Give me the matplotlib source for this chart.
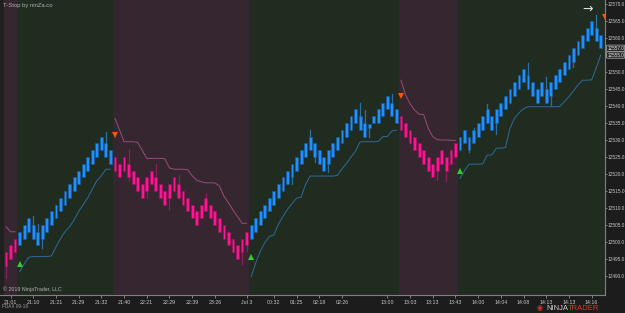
import matplotlib.pyplot as plt
import numpy as np

plt.rcParams['font.family'] = ['Liberation Sans', 'DejaVu Sans']

# renko bricks (open / close), one per bar
opens = [12497, 12495, 12497, 12499, 12501, 12503, 12505, 12503, 12501, 12503,
         12505, 12507, 12509, 12511, 12513, 12515, 12517, 12519, 12521, 12523,
         12525, 12527, 12529, 12527, 12525, 12523, 12521, 12523, 12521, 12519,
         12517, 12515, 12517, 12519, 12517, 12515, 12513, 12515, 12517, 12515,
         12513, 12511, 12509, 12507, 12509, 12511, 12509, 12507, 12505, 12503,
         12501, 12499, 12497, 12499, 12501, 12503, 12505, 12507, 12509, 12511,
         12513, 12515, 12517, 12519, 12521, 12523, 12525, 12527, 12529, 12527,
         12525, 12523, 12525, 12527, 12529, 12531, 12533, 12535, 12537, 12535,
         12533.4, 12535, 12535, 12537, 12539, 12541, 12539, 12537, 12535, 12533,
         12531, 12529, 12527, 12525, 12523, 12521, 12523, 12525, 12523, 12525,
         12527, 12529, 12531, 12529, 12531, 12533, 12535, 12537, 12535, 12537,
         12539, 12541, 12543, 12545, 12547, 12549, 12547, 12545, 12543, 12545,
         12543, 12545, 12547, 12549, 12551, 12553, 12555, 12557, 12559, 12561,
         12563, 12561]
closes = [12493, 12499, 12501, 12503, 12505, 12507, 12501, 12499, 12505, 12507,
          12509, 12511, 12513, 12515, 12517, 12519, 12521, 12523, 12525, 12527,
          12529, 12531, 12525, 12523, 12521, 12519, 12525, 12519, 12517, 12515,
          12513, 12519, 12521, 12515, 12513, 12511, 12517, 12519, 12513, 12511,
          12509, 12507, 12505, 12511, 12513, 12507, 12505, 12503, 12501, 12499,
          12497, 12495, 12501, 12503, 12505, 12507, 12509, 12511, 12513, 12515,
          12517, 12519, 12521, 12523, 12525, 12527, 12529, 12531, 12525, 12523,
          12521, 12527, 12529, 12531, 12533, 12535, 12537, 12539, 12533, 12531,
          12534.6, 12537, 12539, 12541, 12543, 12537, 12535, 12533, 12531, 12529,
          12527, 12525, 12523, 12521, 12519, 12525, 12527, 12521, 12527, 12529,
          12531, 12533, 12527, 12533, 12535, 12537, 12539, 12533, 12539, 12541,
          12543, 12545, 12547, 12549, 12551, 12545, 12543, 12541, 12547, 12541,
          12547, 12549, 12551, 12553, 12555, 12557, 12559, 12561, 12563, 12565,
          12559, 12557]

# wicks sticking out of the bricks
wick_bar = [0, 6, 7, 8, 22, 27, 27, 31, 33, 36, 38, 44, 52, 53, 63, 67, 68, 71,
            78, 79, 80, 85, 95, 97, 102, 103, 106, 108, 115, 119, 120, 125, 130]
wick_to = [12489.4, 12507.7, 12505.3, 12498.3, 12532.4, 12527.5, 12518.2,
           12512.9, 12522.9, 12509.4, 12519.7, 12514.3, 12493.5, 12497.3,
           12517.1, 12532.9, 12523.5, 12520.6, 12540.8, 12538.8, 12531.0,
           12543.4, 12518.2, 12517.8, 12526.5, 12533.6, 12540.6, 12531.8,
           12552.7, 12548.6, 12540.2, 12551.6, 12566.8]

# T-Stop trailing line
stop = [12504.5, 12503.0, 12503.0, 12491.3, 12493.5, 12495.5, 12495.7, 12495.7,
        12495.7, 12495.7, 12495.9, 12498.5, 12501.0, 12503.0, 12504.5, 12506.5,
        12509.0, 12511.0, 12513.0, 12515.5, 12518.0, 12519.5, 12521.4, 12521.4,
        12536.4, 12533.0, 12529.5, 12529.5, 12529.5, 12529.3, 12527.0, 12524.6,
        12524.6, 12524.6, 12524.6, 12524.5, 12521.8, 12521.4, 12521.4, 12521.4,
        12521.3, 12519.5, 12518.2, 12517.7, 12517.4, 12517.4, 12517.4, 12516.5,
        12513.5, 12511.5, 12509.4, 12507.5, 12505.5, 12505.5, 12489.8, 12493.8,
        12497.2, 12499.8, 12501.6, 12502.1, 12505.2, 12507.5, 12509.6, 12511.3,
        12512.9, 12513.2, 12517.0, 12519.4, 12519.4, 12519.4, 12519.4, 12519.4,
        12519.4, 12519.6, 12521.5, 12523.1, 12525.0, 12526.8, 12529.5, 12529.5,
        12529.5, 12529.5, 12529.6, 12531.0, 12531.0, 12532.7, 12532.9, 12547.6,
        12543.3, 12540.7, 12538.8, 12537.6, 12537.5, 12533.4, 12531.0, 12530.1,
        12530.0, 12530.0, 12529.9, 12529.9, 12518.7, 12521.0, 12522.9, 12522.9,
        12522.9, 12523.0, 12525.6, 12525.6, 12527.6, 12527.6, 12527.8, 12533.4,
        12536.4, 12538.0, 12539.2, 12539.8, 12539.8, 12539.8, 12539.8, 12539.8,
        12539.8, 12539.8, 12539.9, 12541.3, 12542.8, 12544.5, 12546.2, 12547.6,
        12547.6, 12547.7, 12551.2, 12555.0]

# trend segments: first bar of each, direction
trend_start = [0, 3, 24, 54, 87, 100]
trend_dir = [-1, 1, -1, 1, -1, 1]

# signal arrows (last one belongs to the next, unfinished bar)
signal_bar = [3, 24, 54, 87, 100, 132]
signal_price = [12493.5, 12531.5, 12495.5, 12542.9, 12521.0, 12566.3]

# x axis labels
tick_bars = [1, 6, 11, 16, 21, 26, 31, 36, 41, 46, 53, 59, 64, 69, 74, 84, 89,
             94, 99, 104, 109, 114, 119, 124, 129]
tick_labels = ['21:01', '21:10', '21:21', '21:29', '21:32', '21:40', '22:21',
               '22:29', '22:39', '23:26', 'Jul 3', '00:32', '01:25', '02:18',
               '02:26', '13:00', '13:03', '13:13', '13:43', '14:00', '14:04',
               '14:08', '14:13', '14:13', '14:16']
price_ticks = list(range(12490, 12571, 5))

BLUE = '#1e90ff'
PINK = '#ff1493'
BG_UP = '#212c21'
BG_DN = '#35262f'
TXT = '#c8c8c8'

n = len(opens)
x = np.arange(n)
trend = np.zeros(n)
ends = trend_start[1:] + [n]
for s, e, d in zip(trend_start, ends, trend_dir):
    trend[s:e] = d

fig = plt.figure(figsize=(6.25, 3.13), dpi=100, facecolor='#1c1c1c')
ax = fig.add_axes([0, 18 / 313, 605 / 625, 295 / 313])
ax.set_facecolor('#1e211e')

# background by trend
for s, e, d in zip(trend_start, ends, trend_dir):
    right = e - 0.5 + (2 if e == n else 0)
    ax.axvspan(s - 0.5, right, color=BG_UP if d > 0 else BG_DN, lw=0, zorder=0)

# wicks
for b, w in zip(wick_bar, wick_to):
    mid = (opens[b] + closes[b]) / 2
    ax.plot([b, b], [mid, w], color='#2f6f9f' if trend[b] > 0 else '#8c1f5c',
            lw=0.9, zorder=2)

# bricks
o = np.array(opens)
c = np.array(closes)
cols = [BLUE if t > 0 else PINK for t in trend]
edges = ['#155a9c' if t > 0 else '#a0105e' for t in trend]
ax.bar(x, c - o, bottom=o, width=0.62, color=cols, edgecolor=edges, lw=0.4, zorder=3)

# stop line
for s, e, d in zip(trend_start, ends, trend_dir):
    ax.plot(x[s:e], stop[s:e], color='#2d6a98' if d > 0 else '#9a4d7a',
            lw=0.7, zorder=2)

# signals
for b, p in zip(signal_bar, signal_price):
    if b < n and trend[b] > 0:
        ax.plot(b, p, marker='^', color='#33cc33', ms=5, mew=0, zorder=4)
    else:
        ax.plot(b, p, marker='v', color='#ff5500', ms=5, mew=0, zorder=4)

ax.set_xlim(-1.32, 131.94)
ax.set_ylim(12484.4, 12571.2)

ax.yaxis.tick_right()
ax.set_yticks(price_ticks)
ax.set_yticklabels([f'{v:.1f}' for v in price_ticks])
ax.set_xticks(tick_bars)
ax.set_xticklabels(tick_labels)
ax.tick_params(axis='x', colors='#909090', labelcolor=TXT, labelsize=3.8,
               length=2, width=0.6, pad=1.5)
ax.tick_params(axis='y', colors='#909090', labelcolor=TXT, labelsize=3.4,
               length=1.5, width=0.6, pad=0.6)
for sp in ['top', 'left']:
    ax.spines[sp].set_visible(False)
for sp in ['right', 'bottom']:
    ax.spines[sp].set_color('#808080')
    ax.spines[sp].set_linewidth(0.8)

# current price / stop markers on the axis
for val in [closes[-1], stop[-1]]:
    ax.annotate(f'{val:.1f}', xy=(1.0, val), xycoords=('axes fraction', 'data'),
                xytext=(1.6, 0), textcoords='offset points', va='center', ha='left',
                fontsize=3.3, color='#e8e8e8',
                bbox=dict(boxstyle='round,pad=0.15', fc='#2a2a2a', ec='#b0b0b0', lw=0.5))

fig.text(3 / 625, 1 - 6 / 313, 'T-Stop by ninZa.co', fontsize=4.2, color='#b0b0b0',
         va='center', ha='left')
fig.text(3 / 625, 1 - 289 / 313, '\u00a9 2019 NinjaTrader, LLC', fontsize=3.8,
         color='#b0b0b0', va='center', ha='left')
fig.text(2 / 625, 1 - 307 / 313, 'FDAX 09-19', fontsize=3.4, color='#a0a0a0',
         va='center', ha='left')
fig.text(588 / 625, 1 - 9 / 313, '\u2192', fontsize=9, color='#e0e0e0',
         va='center', ha='center', family='DejaVu Sans')
fig.text(568 / 625, 1 - 308 / 313, 'NINJA', fontsize=5.5, color='#d0d0d0',
         va='center', ha='right')
fig.text(568 / 625, 1 - 308 / 313, 'TRADER', fontsize=5.5, color='#d03a2a',
         va='center', ha='left')
fig.text(540 / 625, 1 - 308 / 313, '\u25c9', fontsize=5, color='#d03a2a',
         va='center', ha='center', family='DejaVu Sans')

fig.savefig('out.png', dpi=100, facecolor=fig.get_facecolor())
